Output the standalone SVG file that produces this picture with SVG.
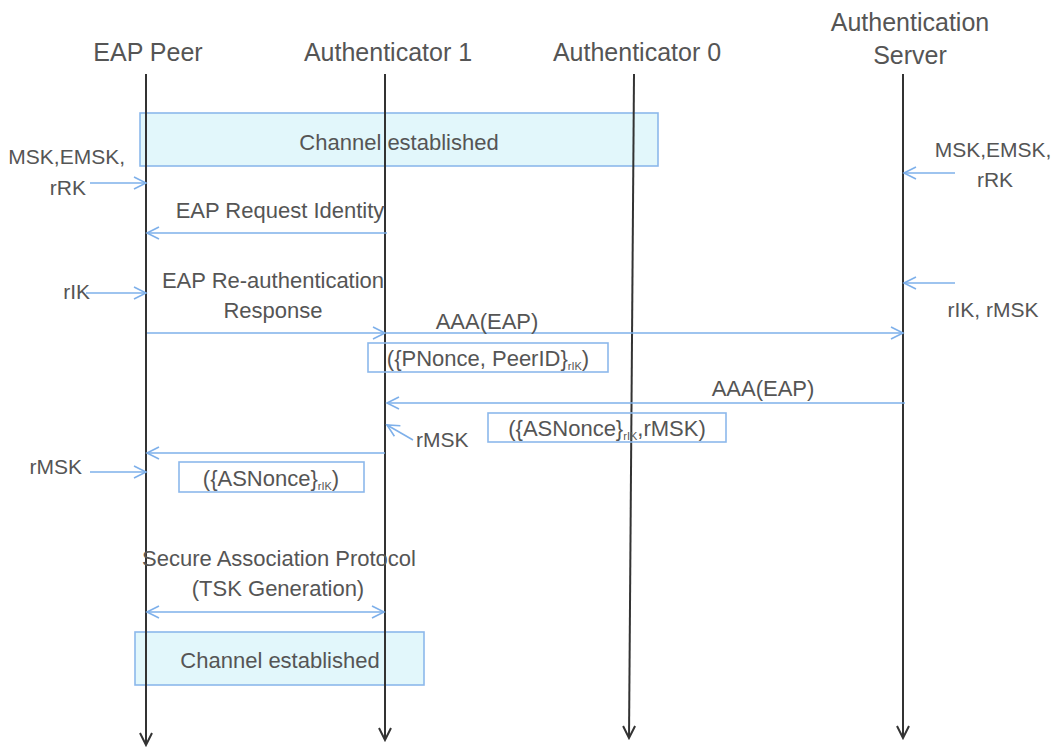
<svg xmlns="http://www.w3.org/2000/svg" width="1058" height="748" viewBox="0 0 1058 748">
<style>
text{font-family:"Liberation Sans",Arial,sans-serif;fill:#555;font-size:22px}
.h{font-size:25px}
.s{font-size:21px}
.m{text-anchor:middle}
.e{text-anchor:end}
.sub{font-size:11px}
.life{stroke:#333;stroke-width:2;fill:none;marker-end:url(#ga)}
.msg{stroke:#7eb0ea;stroke-width:1.6;fill:none;marker-end:url(#ba)}
.box{fill:none;stroke:#8cb8ec;stroke-width:1.6}
.chan{fill:#e2f7fb;stroke:#8cb8ec;stroke-width:1.6}
</style>
<defs>
<marker id="ba" markerUnits="userSpaceOnUse" markerWidth="16" markerHeight="16" refX="14" refY="8" orient="auto-start-reverse" viewBox="0 0 16 16">
<path d="M2,2 L14,8 L2,14" fill="none" stroke="#7eb0ea" stroke-width="1.6"/>
</marker>
<marker id="ga" markerUnits="userSpaceOnUse" markerWidth="16" markerHeight="16" refX="14" refY="8" orient="auto" viewBox="0 0 16 16">
<path d="M2,2 L14,8 L2,14" fill="none" stroke="#333" stroke-width="2"/>
</marker>
</defs>
<rect width="1058" height="748" fill="#fff"/>
<g id="channel1"><rect class="chan" x="140" y="113" width="518" height="53"/></g>
<g id="channel2"><rect class="chan" x="135" y="632" width="289" height="53"/></g>
<g id="lifelines">
<line class="life" x1="146" y1="74" x2="146" y2="745"/>
<line class="life" x1="385" y1="74" x2="385" y2="740"/>
<line class="life" x1="634" y1="74" x2="629" y2="738"/>
<line class="life" x1="903" y1="74" x2="903" y2="738"/>
</g>
<g id="peer"><text class="h m" x="148" y="61">EAP Peer</text></g>
<g id="auth1"><text class="h m" x="388" y="61">Authenticator 1</text></g>
<g id="auth0"><text class="h m" x="637" y="61">Authenticator 0</text></g>
<g id="server"><text class="h m" x="910" y="31">Authentication</text><text class="h m" x="910" y="64">Server</text></g>
<g id="channel1-label"><text class="m" x="399" y="150">Channel established</text></g>
<g id="channel2-label"><text class="m" x="280" y="668">Channel established</text></g>
<g id="connectors">
<line class="msg" x1="90" y1="183" x2="146" y2="183"/>
<line class="msg" x1="387" y1="233" x2="147" y2="233"/>
<line class="msg" x1="86" y1="293" x2="146" y2="293"/>
<line class="msg" x1="147" y1="333" x2="385" y2="333"/>
<line class="msg" x1="386" y1="333" x2="903" y2="333"/>
<line class="msg" x1="905" y1="403" x2="387" y2="403"/>
<line class="msg" x1="413" y1="440" x2="387" y2="425"/>
<line class="msg" x1="385" y1="453" x2="147" y2="453"/>
<line class="msg" x1="90" y1="472" x2="146" y2="472"/>
<line class="msg" x1="147" y1="612" x2="384" y2="612" style="marker-start:url(#ba)"/>
<line class="msg" x1="955" y1="173" x2="904" y2="173"/>
<line class="msg" x1="955" y1="283" x2="904" y2="283"/>
</g>
<g id="labels">
<text class="s e" x="125" y="164">MSK,EMSK,</text>
<text class="s e" x="86" y="195">rRK</text>
<text class="m" x="280" y="218">EAP Request Identity</text>
<text class="s e" x="90" y="299">rIK</text>
<text class="m" x="273" y="288">EAP Re-authentication</text>
<text class="m" x="273" y="318">Response</text>
<text class="m" x="487" y="329">AAA(EAP)</text>
<text class="m" x="763" y="396">AAA(EAP)</text>
<text class="s" x="416" y="447">rMSK</text>
<text class="s e" x="82" y="474">rMSK</text>
<text class="m" x="279" y="566">Secure Association Protocol</text>
<text class="m" x="278" y="596">(TSK Generation)</text>
<text class="s m" x="993" y="157">MSK,EMSK,</text>
<text class="s m" x="995" y="187">rRK</text>
<text class="s m" x="993" y="317">rIK, rMSK</text>
</g>
<g id="pnonce"><rect class="box" x="368" y="343" width="240" height="29"/><text class="m" x="488" y="366">({PNonce, PeerID}<tspan class="sub" dy="4">rIK</tspan><tspan dy="-4">)</tspan></text></g>
<g id="asnonce-rmsk"><rect class="box" x="488" y="413" width="238" height="29"/><text class="m" x="607" y="436">({ASNonce}<tspan class="sub" dy="4">rIK</tspan><tspan dy="-4">,rMSK)</tspan></text></g>
<g id="asnonce"><rect class="box" x="179" y="462" width="185" height="30"/><text class="m" x="271" y="486">({ASNonce}<tspan class="sub" dy="4">rIK</tspan><tspan dy="-4">)</tspan></text></g>
</svg>
